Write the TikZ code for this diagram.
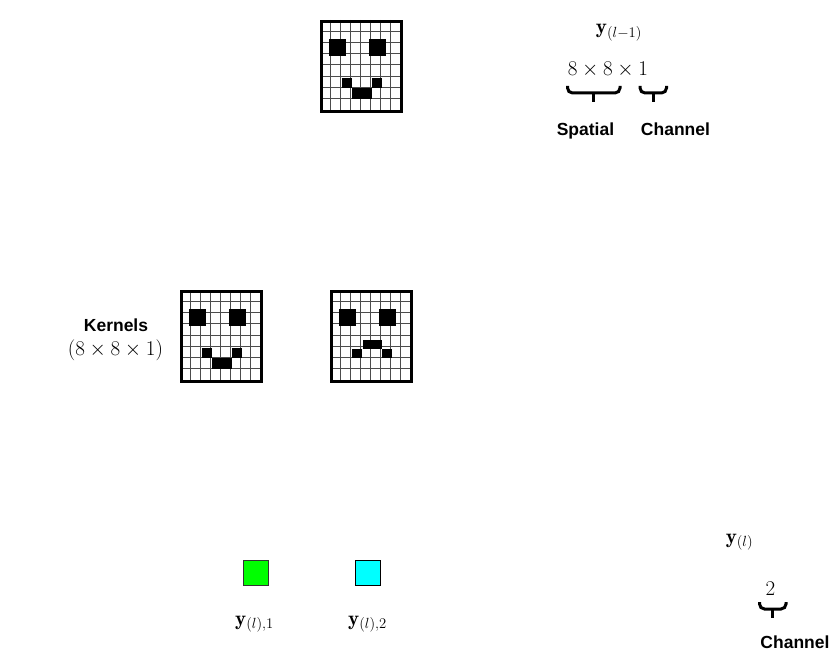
\RequirePackage{fix-cm}
\documentclass[tikz,border=0pt]{standalone}
\usepackage{fontspec}
\newfontfamily\labelfont{Liberation Sans}
\tikzset{
  lbl/.style={font=\labelfont\bfseries\fontsize{17.5}{20}\selectfont, inner sep=0pt, anchor=base},
  mth/.style={font=\fontsize{21}{25}\selectfont, inner sep=0pt, anchor=base},
  gline/.style={draw=black!70, line width=1pt},
  gridframe/.style={draw=black, line width=3pt, minimum width=80pt, minimum height=90pt, inner sep=0pt, anchor=north west},
  pix/.style={fill=black},
  brc/.style={draw=black, line width=3pt, rounded corners=5pt},
  chan/.style={draw=black!80, line width=1pt, minimum size=25pt, inner sep=0pt},
}
\newcommand\gridlines{%
  \foreach \i in {1,...,7} \draw[gline] (\i*10,0) -- (\i*10,90);
  \foreach \j in {1,...,7} \draw[gline] (0,\j*11.25) -- (80,\j*11.25);
}
\newcommand\smileface{%
  \fill[pix] (9.3,19) rectangle (25.7,35.7);
  \fill[pix] (49.3,19) rectangle (65.7,35.7);
  \fill[pix] (22,58.3) rectangle (31.7,68.3);
  \fill[pix] (52.3,58.3) rectangle (61.7,68.3);
  \fill[pix] (31.7,68.3) rectangle (52.3,79);
}
\newcommand\frownface{%
  \fill[pix] (9.3,19) rectangle (25.7,35.7);
  \fill[pix] (49.3,19) rectangle (65.7,35.7);
  \fill[pix] (33.3,50) rectangle (51.7,59.3);
  \fill[pix] (22,59) rectangle (32.3,68.3);
  \fill[pix] (52.3,59) rectangle (61.7,68.3);
}
% brace: name, xa, xb, ytop
\newcommand\ubrace[4]{%
  \coordinate (#1a) at (#2,#4);
  \coordinate (#1b) at (#3,#4);
  \coordinate (#1m) at ({(#2+#3)/2},#4+7);
  \draw[brc] (#1a) -- ++(0,7) -| (#1b);
  \draw[black, line width=3pt] (#1m) -- ++(0,9);
}
\begin{document}
\begin{tikzpicture}[x=1pt,y=-1pt]
\useasboundingbox (0,0) rectangle (840,660);

% input feature map
\begin{scope}[shift={(320,20)}]
  \gridlines
  \smileface
  \node[gridframe] (inmap) at (0,0) {};
\end{scope}

% kernels
\begin{scope}[shift={(180,290)}]
  \gridlines
  \smileface
  \node[gridframe] (k1) at (0,0) {};
\end{scope}
\begin{scope}[shift={(330,290)}]
  \gridlines
  \frownface
  \node[gridframe] (k2) at (0,0) {};
\end{scope}

% labels top right
\node[mth] (ylm1) at (619,34) {$\mathbf{y}_{(l-1)}$};
\node[mth] (dims) at (608,76) {$8\times8\times1$};
\ubrace{bs}{567.5}{620}{86}
\ubrace{bc}{640}{666.5}{86}
\node[lbl] (spat) at (585.5,136) {Spatial};
\node[lbl] (chtop) at (675.5,136) {Channel};

% kernels label
\node[lbl] (kern) at (116,331.5) {Kernels};
\node[mth] (kdims) at (115.5,355.5) {$(8\times8\times1)$};

% outputs
\node[chan, fill={rgb,255:red,0;green,255;blue,0}] (o1) at (255.5,572.8) {};
\node[chan, draw=black, fill={rgb,255:red,0;green,255;blue,255}] (o2) at (367.8,572.8) {};
\node[mth] (yl1) at (254.5,625) {$\mathbf{y}_{(l),1}$};
\node[mth] (yl2) at (367.5,625) {$\mathbf{y}_{(l),2}$};

% bottom right
\node[mth] (yl) at (739.5,543) {$\mathbf{y}_{(l)}$};
\node[mth] (two) at (770.5,595) {$2$};
\ubrace{bb}{759.5}{786}{602}
\node[lbl] (chbot) at (795,648) {Channel};
\end{tikzpicture}
\end{document}
